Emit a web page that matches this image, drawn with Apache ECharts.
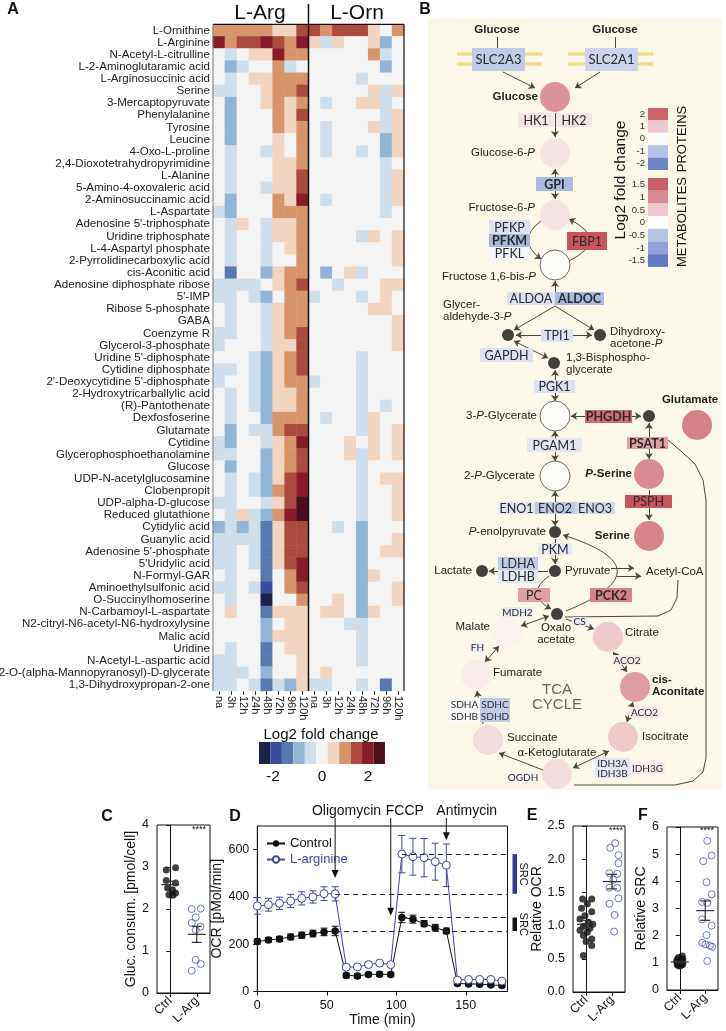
<!DOCTYPE html>
<html>
<head>
<meta charset="utf-8">
<script src="https://cdn.jsdelivr.net/npm/echarts@6/dist/echarts.min.js"></script>
<style>
html,body{margin:0;padding:0;background:#fff;}
#main{width:726px;height:1031px;}
</style>
</head>
<body>
<div id="main"></div>
<script>
const FONT = 'Liberation Sans, Arial, Helvetica, sans-serif';
const ENZ_FONT = 'Lato, Open Sans, sans-serif';

// ---------------- A : heatmap data ----------------
const timeLabels = ['na', '3h', '12h', '24h', '48h', '72h', '96h', '120h'];
const metaboliteLabels = [
  'L-Ornithine', 'L-Arginine', 'N-Acetyl-L-citrulline', 'L-2-Aminoglutaramic acid', 'L-Arginosuccinic acid',
  'Serine', '3-Mercaptopyruvate', 'Phenylalanine', 'Tyrosine', 'Leucine', '4-Oxo-L-proline',
  '2,4-Dioxotetrahydropyrimidine', 'L-Alanine', '5-Amino-4-oxovaleric acid', '2-Aminosuccinamic acid',
  'L-Aspartate', "Adenosine 5'-triphosphate", 'Uridine triphosphate', 'L-4-Aspartyl phosphate',
  '2-Pyrrolidinecarboxylic acid', 'cis-Aconitic acid', 'Adenosine diphosphate ribose', "5'-IMP",
  'Ribose 5-phosphate', 'GABA', 'Coenzyme R', 'Glycerol-3-phosphate', "Uridine 5'-diphosphate",
  'Cytidine diphosphate', "2'-Deoxycytidine 5'-diphosphate", '2-Hydroxytricarballylic acid',
  '(R)-Pantothenate', 'Dexfosfoserine', 'Glutamate', 'Cytidine', 'Glycerophosphoethanolamine', 'Glucose',
  'UDP-N-acetylglucosamine', 'Clobenpropit', 'UDP-alpha-D-glucose', 'Reduced glutathione', 'Cytidylic acid',
  'Guanylic acid', "Adenosine 5'-phosphate", "5'Uridylic acid", 'N-Formyl-GAR', 'Aminoethylsulfonic acid',
  'O-Succinylhomoserine', 'N-Carbamoyl-L-aspartate', 'N2-citryl-N6-acetyl-N6-hydroxylysine', 'Malic acid',
  'Uridine', 'N-Acetyl-L-aspartic acid', '2-O-(alpha-Mannopyranosyl)-D-glycerate', '1,3-Dihydroxypropan-2-one'
];
// log2 fold change, L-Arg treatment (columns = timeLabels)
const argFC = [
  [1,1,1,1,1,.5,.5,1.5],[2,1,1.5,1.5,2,1.5,1,2],[0,-.5,0,.5,.5,2,1,1],[0,-1,-.5,0,0,1,-.5,0],
  [0,-.5,0,.5,.5,1,1,1],[-.5,-.5,0,0,.5,1,1,1.5],[0,-1,0,0,.5,1,.5,1],[0,-1,0,0,0,1,.5,1.5],
  [0,-1,0,0,0,1,.5,1],[0,-1,0,0,0,.5,0,1],[0,-.5,0,0,-.5,.5,0,1],[0,-.5,0,0,0,.5,.5,1],
  [0,-.5,0,0,0,.5,.5,1.5],[0,-.5,0,0,-.5,.5,.5,1.5],[0,-1,0,0,0,1,.5,2],[-.5,-1,0,0,0,1,1,1],
  [0,-.5,.5,0,-.5,.5,.5,1],[0,-.5,0,0,-.5,.5,.5,1],[0,-.5,0,0,-.5,0,.5,1],[0,-.5,0,0,-.5,0,0,1],
  [0,-1.5,0,0,-1,.5,1,1],[-.5,-.5,-.5,-.5,0,.5,1,1.5],[-.5,-.5,0,-.5,-1,0,1,1],[0,-.5,0,0,-.5,.5,1,1],
  [0,-.5,0,0,-.5,.5,1,1],[-.5,-.5,0,0,-.5,.5,1,1.5],[-.5,0,0,0,-.5,.5,.5,1.5],[0,0,0,-.5,-1,.5,1,1.5],
  [-.5,-.5,0,-.5,-1,.5,1,1.5],[-.5,0,0,-.5,-1,.5,1,1],[0,-.5,0,-.5,-1,.5,.5,1],[0,-.5,0,-.5,-1,.5,.5,1],
  [0,-.5,0,0,-1,1,1,1],[0,-1,0,-.5,-.5,1,1.5,1.5],[-.5,-1,0,0,-.5,.5,1,2],[-.5,-.5,0,0,-1,.5,1,1.5],
  [0,-1,0,0,-1,.5,1,1.5],[0,-.5,0,-.5,-1,.5,1.5,2],[0,-.5,0,-.5,-1,1,1.5,2],[-.5,-.5,0,0,-.5,.5,1.5,2.5],
  [0,-.5,.5,-.5,-1,1,2,2.5],[-1,-.5,-1,-.5,-1.5,.5,1.5,1.5],[-.5,-.5,-.5,-.5,-1.5,.5,1.5,1.5],
  [-.5,-.5,0,-.5,-1.5,.5,1.5,1.5],[-.5,-.5,0,-.5,-1.5,.5,1.5,2],[0,-.5,0,0,-1.5,0,1,2],
  [-.5,-.5,0,-.5,-2,0,1,1.5],[0,-.5,0,0,-2.5,0,0,1],[0,.5,0,0,-1.5,.5,.5,.5],[0,0,0,0,-1,0,.5,.5],
  [0,0,0,0,-1,.5,.5,.5],[0,-.5,0,0,-1.5,0,.5,.5],[-.5,-.5,0,0,-1.5,0,0,.5],[-.5,-.5,-.5,0,-1,0,0,.5],
  [-.5,-.5,0,-.5,-1.5,-.5,-1,.5]
];
// log2 fold change, L-Orn treatment
const ornFC = [
  [1.5,1,1.5,1.5,1.5,.5,0,1],[.5,-.5,.5,0,0,.5,-1,0],[0,0,0,0,0,1,-.5,0],[0,0,0,0,0,0,-1,0],
  [0,0,0,0,-.5,0,0,0],[0,0,0,0,0,.5,-.5,.5],[0,-.5,0,0,.5,.5,-.5,0],[0,0,0,0,0,0,-.5,.5],
  [0,-.5,0,0,0,.5,-.5,.5],[0,-.5,0,0,0,0,-1,.5],[0,-.5,0,0,-.5,0,-1,.5],[0,0,0,0,0,0,-.5,0],
  [0,0,0,0,0,0,-.5,.5],[0,0,0,0,0,0,-.5,.5],[0,-.5,0,0,0,0,-.5,.5],[0,0,0,0,0,0,-.5,0],
  [0,0,0,0,0,0,0,0],[0,0,0,0,-.5,.5,0,.5],[0,0,0,0,0,0,0,.5],[0,0,0,0,0,0,0,.5],
  [0,-1,0,.5,-.5,0,0,0],[0,0,-.5,0,0,0,.5,.5],[-.5,0,0,0,-.5,0,.5,0],[0,0,0,0,0,.5,.5,0],
  [0,0,0,0,0,0,0,.5],[0,0,0,0,0,0,0,.5],[0,0,0,0,0,0,0,.5],[0,0,0,0,-.5,0,0,0],
  [0,0,0,0,-.5,0,0,0],[-.5,0,0,0,-.5,0,0,0],[0,0,0,0,-.5,0,0,0],[0,0,0,0,-.5,0,-.5,0],
  [0,-.5,0,0,-.5,.5,0,0],[0,0,0,0,-.5,.5,0,.5],[0,0,0,.5,0,.5,0,.5],[0,0,0,.5,-.5,.5,0,.5],
  [0,0,0,0,-.5,0,0,0],[0,0,0,0,-.5,0,.5,.5],[0,0,0,0,-.5,0,0,.5],[0,0,0,0,-.5,0,0,.5],
  [0,0,0,0,-.5,0,0,.5],[0,0,-.5,0,-1,0,0,0],[0,0,0,0,-1,0,0,.5],[0,0,0,0,-1,0,.5,.5],
  [0,0,0,0,-1,0,0,0],[0,0,0,0,-1,.5,0,0],[0,0,0,0,-1,0,0,.5],[0,0,.5,0,-1,0,0,.5],
  [0,.5,.5,0,-1,.5,0,0],[0,0,0,-.5,-.5,0,0,0],[0,0,0,0,-.5,0,0,0],[0,0,0,0,-.5,0,0,0],
  [0,0,0,0,-.5,0,0,0],[0,.5,0,0,0,0,0,0],[-.5,-.5,0,0,-.5,0,-1.5,0]
];
const fcLevels = [-2.5, -2, -1.5, -1, -0.5, 0, 0.5, 1, 1.5, 2, 2.5];
const fcColors = ['#1c2346', '#3a4d9c', '#5878b0', '#93b5d5', '#cfdeeb', '#f4f4f4',
  '#f2d5c0', '#d6956b', '#ab4a3e', '#881b2a', '#4a0f1c'];

// ---------------- B : pathway fold changes ----------------
const pathMetabolites = ['Glucose', 'G6P', 'F6P', 'F16BP', '3PG', '2PG', 'Glutamate', 'PSer', 'Serine',
  'Malate', 'Fumarate', 'Succinate', 'aKG', 'Isocitrate', 'cisAco', 'Citrate'];
const pathMetaboliteFC = [1.2, 0.3, 0.3, 0, 0, 0, 1.45, 1.3, 1.4, 0.15, 0.2, 0.4, 0.4, 0.6, 1.05, 0.6];
const unmeasuredMetabolites = ['G3P', 'DHAP', 'BPG', 'PHP', 'PEP', 'Pyruvate', 'Lactate', 'OAA'];
const pathEnzymes = ['SLC2A3', 'SLC2A1', 'HK1', 'HK2', 'GPI', 'PFKP', 'PFKM', 'PFKL', 'FBP1', 'ALDOA', 'ALDOC',
  'TPI1', 'GAPDH', 'PGK1', 'PHGDH', 'PSAT1', 'PGAM1', 'PSPH', 'ENO1', 'ENO2', 'ENO3', 'PKM', 'LDHA', 'LDHB',
  'PC', 'PCK2', 'MDH2', 'CS', 'FH', 'ACO2', 'SDHA', 'SDHB', 'SDHC', 'SDHD', 'OGDH', 'IDH3A', 'IDH3B', 'IDH3G'];
const pathEnzymeFC = [-0.85, -0.7, 0.45, 0.45, -1.15, -0.45, -1.2, -0.1, 2.3, -0.45, -1.15,
  -0.45, -0.45, -0.45, 1.9, 1.4, -0.35, 2.3, -0.35, -0.9, -0.6, -0.3, -0.85, -0.35,
  1.4, 1.7, -0.25, -0.3, -0.2, 0.35, 0, 0, -0.85, -0.85, 0, -0.35, -0.35, 0.35];
const proteinLegendLevels = [2, 1, 0, -1, -2];
const metaboliteLegendLevels = [1.5, 1, 0.5, 0, -0.5, -1, -1.5];

// ---------------- C : glucose consumption ----------------
const groups = ['Ctrl', 'L-Arg'];
const glucCtrl = [2.93, 2.98, 2.68, 2.62, 2.5, 2.46, 2.38, 2.34, 2.33];
const glucCtrlJit = [-0.15, 0.2, -0.15, 0.2, -0.1, 0.08, 0.2, -0.05, 0.1];
const glucArg = [2.0, 2.01, 1.8, 1.67, 1.58, 1.5, 0.79, 0.69, 0.53];
const glucArgJit = [-0.19, 0.15, -0.04, -0.19, 0.14, -0.04, -0.04, 0.15, -0.19];

// ---------------- D : OCR trace ----------------
const ocrTime = [0, 8, 16, 24, 32, 40, 48, 56, 64, 72, 80, 88, 96, 104, 112, 120, 128, 136, 144, 152, 160, 168, 176];
const ocrControl = [211, 218, 222, 231, 238, 245, 252, 256, 68, 66, 72, 73, 72, 313, 306, 287, 270, 256, 34, 32, 31, 28, 25];
const ocrControlErr = [11, 10, 11, 12, 13, 14, 16, 20, 10, 9, 9, 9, 9, 22, 17, 13, 14, 12, 8, 7, 7, 7, 7];
const ocrArg = [362, 367, 373, 383, 394, 400, 414, 413, 103, 104, 114, 120, 114, 581, 570, 566, 549, 534, 48, 51, 51, 51, 44];
const ocrArgErr = [35, 27, 26, 28, 28, 26, 29, 30, 10, 9, 9, 9, 9, 79, 78, 81, 78, 90, 8, 8, 8, 8, 8];
const drugNames = ['Oligomycin', 'FCCP', 'Antimycin'];
const drugTimes = [56, 96, 136];
const drugArrowTip = [480, 320, 640];

// ---------------- E / F ----------------
const relOcrCtrl = [1.40, 1.40, 1.33, 1.26, 1.21, 1.15, 1.10, 1.05, 1.02, 0.99, 0.96, 0.93, 0.90, 0.85, 0.80, 0.76, 0.70, 0.55];
const relOcrCtrlJit = [-0.13, 0.22, 0.05, -0.17, 0.22, -0.04, -0.23, 0.09, 0.26, -0.1, 0.15, -0.23, 0.05, -0.1, 0.22, 0, 0.22, -0.1];
const relOcrArg = [2.24, 2.17, 2.06, 1.94, 1.79, 1.78, 1.69, 1.57, 1.57, 1.41, 1.33, 1.16, 0.91];
const relOcrArgJit = [0.12, -0.07, 0.25, 0.25, -0.1, 0.2, 0.05, -0.1, 0.2, 0.25, -0.1, 0.1, 0.08];
const relSrcCtrl = [1.25, 1.2, 1.15, 1.12, 1.1, 1.05, 1.02, 1.0, 0.98, 0.95, 0.93, 0.9, 0.88, 1.08, 0.96, 0.92];
const relSrcCtrlJit = [0.1, -0.05, 0.12, -0.1, 0.05, -0.12, 0, 0.08, -0.06, 0.12, -0.1, 0.03, -0.03, 0.1, -0.08, 0.06];
const relSrcArg = [5.49, 4.95, 4.74, 3.97, 3.52, 3.24, 3.21, 2.6, 2.37, 2.02, 1.74, 1.68, 1.63, 1.59, 1.07];
const relSrcArgJit = [0.08, 0.25, -0.08, 0.05, 0.25, -0.12, 0.08, -0.12, 0.25, 0.05, -0.12, 0.01, 0.18, 0.27, 0.08];

// ---------------- B : diagram geometry (pixel-like diagram units) ----------------
const nodePos = {
  Glucose: [555, 97], G6P: [555, 153], F6P: [555, 215], F16BP: [555, 265], '3PG': [555, 416], '2PG': [555, 476],
  Glutamate: [697, 425], PSer: [649, 474], Serine: [649, 536], Malate: [507, 632], Fumarate: [476, 675],
  Succinate: [488, 740], aKG: [557, 774], Isocitrate: [623, 737], cisAco: [635, 687], Citrate: [608, 637],
  G3P: [508, 335], DHAP: [600, 335], BPG: [554, 363], PHP: [649, 416], PEP: [555, 532], Pyruvate: [555, 571],
  Lactate: [482, 571], OAA: [557, 614]
};
// enzyme boxes: name, x1, y1, x2, y2, font size, bold
const enzymeBoxes = [
  ['SLC2A3', 472, 48, 525, 71, 13, 0], ['SLC2A1', 585, 48, 638, 71, 13, 0],
  ['HK1', 518, 113, 554, 127, 12.5, 0], ['HK2', 556, 113, 592, 127, 12.5, 0],
  ['GPI', 536, 177, 573, 191, 12.5, 1],
  ['PFKP', 489, 220, 530, 234, 12.5, 0], ['PFKM', 489, 234, 530, 247, 12.5, 1], ['PFKL', 489, 247, 530, 260, 12.5, 0],
  ['FBP1', 567, 232, 607, 250, 12.5, 0],
  ['ALDOA', 507, 292, 555, 305, 12.5, 0], ['ALDOC', 555, 292, 604, 305, 12.5, 1],
  ['TPI1', 541, 329, 573, 342, 12.5, 0], ['GAPDH', 480, 348, 533, 362, 12.5, 0], ['PGK1', 534, 380, 575, 393, 12.5, 0],
  ['PHGDH', 585, 410, 632, 423, 12.5, 1], ['PSAT1', 627, 437, 668, 449, 12.5, 1], ['PGAM1', 527, 438, 582, 452, 12.5, 0],
  ['PSPH', 625, 495, 672, 508, 12.5, 0],
  ['ENO1', 498, 502, 535, 514, 12.5, 0], ['ENO2', 535, 502, 575, 514, 12.5, 0], ['ENO3', 575, 502, 615, 514, 12.5, 0],
  ['PKM', 538, 543, 572, 555, 12.5, 0], ['LDHA', 498, 557, 538, 570, 12.5, 0], ['LDHB', 498, 570, 538, 583, 12.5, 0],
  ['PC', 518, 588, 550, 602, 12.5, 0], ['PCK2', 590, 588, 632, 602, 12.5, 1],
  ['MDH2', 502, 607, 533, 617, 10, 0], ['CS', 572, 617, 587, 626, 10, 0], ['FH', 470, 642, 485, 652, 10, 0],
  ['ACO2', 612, 655, 642, 665, 10, 0], ['ACO2', 629, 707, 660, 718, 10, 0],
  ['SDHA', 449, 698, 480, 710, 10, 0], ['SDHC', 480, 698, 510, 710, 10, 0],
  ['SDHB', 449, 710, 480, 722, 10, 0], ['SDHD', 480, 710, 510, 722, 10, 0],
  ['OGDH', 508, 772, 538, 782, 10, 0],
  ['IDH3A', 595, 758, 630, 768, 10, 0], ['IDH3B', 595, 768, 630, 778, 10, 0], ['IDH3G', 630, 762, 665, 774, 10, 0]
];
const singleArrows = [
  [[503, 72], [535, 88]], [[600, 72], [575, 88]], [[555, 113], [555, 137]], [[555, 292], [555, 281]],
  [[555, 306], [514, 330]], [[555, 306], [594, 330]], [[649, 490], [649, 520]], [[555, 539], [555, 564]],
  [[548, 571], [489, 571]], [[611, 568], [634, 568]], [[617, 576], [641, 576]], [[566, 619], [594, 629]],
  [[483, 724], [477, 691]], [[543, 770], [499, 753]]
];
const curvedArrows = [
  [[541, 221], [541, 259], -0.68], [[569, 261], [569, 219], -1.0],
  [[549, 576], [551, 609], -0.79], [[566, 611], [563, 535], -1.39]
];
const doubleArrows = [
  [[555, 169], [555, 199]], [[516, 335], [592, 335]], [[514, 341], [548, 358]], [[555, 370], [555, 401]],
  [[571, 416], [641, 416]], [[649, 423], [649, 459]], [[555, 431], [555, 461]], [[555, 491], [555, 526]],
  [[549, 616], [521, 626]], [[499, 646], [485, 662]], [[613, 652], [627, 672]], [[633, 702], [627, 722]],
  [[609, 751], [573, 768]]
];
const polyArrows = [
  [[668, 440], [682, 452], [695, 464], [703, 480], [706, 500], [706, 758], [703, 772], [693, 781], [675, 785], [574, 785]],
  [[678, 580], [677, 598], [671, 610], [658, 616], [565, 617]]
];
const plainLines = [[[497, 37], [497, 48]], [[615, 37], [615, 48]]];
const membranes = [[[457, 54], [542, 54]], [[457, 64], [542, 64]], [[568, 54], [653, 54]], [[568, 64], [653, 64]]];
// text, x, y, align, bold
const bLabels = [
  ['Glucose', 497, 30, 'center', 1], ['Glucose', 615, 30, 'center', 1], ['Glucose', 538, 97, 'right', 1],
  ['Glucose-6-{i|P}', 535, 153, 'right', 0], ['Fructose-6-{i|P}', 535, 208, 'right', 0],
  ['Fructose 1,6-bis-{i|P}', 536, 277, 'right', 0], ['Glycer-\naldehyde-3-{i|P}', 443, 311, 'left', 0],
  ['Dihydroxy-\nacetone-{i|P}', 610, 338, 'left', 0], ['1,3-Bisphospho-\nglycerate', 566, 364, 'left', 0],
  ['3-{i|P}-Glycerate', 537, 416, 'right', 0], ['Glutamate', 690, 400, 'center', 1],
  ['{bi|P}-Serine', 632, 474, 'right', 1], ['2-{i|P}-Glycerate', 535, 476, 'right', 0],
  ['{i|P}-enolpyruvate', 546, 532, 'right', 0], ['Serine', 630, 536, 'right', 1], ['Pyruvate', 565, 571, 'left', 0],
  ['Lactate', 472, 571, 'right', 0], ['Acetyl-CoA', 646, 572, 'left', 0], ['Oxalo\nacetate', 556, 634, 'center', 0],
  ['Malate', 490, 627, 'right', 0], ['Citrate', 625, 633, 'left', 0], ['Fumarate', 493, 673, 'left', 0],
  ['cis-\nAconitate', 652, 686, 'left', 1], ['Succinate', 507, 738, 'left', 0], ['Isocitrate', 642, 737, 'left', 0],
  ['α-Ketoglutarate', 557, 753, 'center', 0]
];

// ---------------- helpers ----------------
function hex(c) { return [parseInt(c.slice(1, 3), 16), parseInt(c.slice(3, 5), 16), parseInt(c.slice(5, 7), 16)]; }
function scaleColor(stops, v) {
  if (v <= stops[0][0]) return stops[0][1];
  if (v >= stops[stops.length - 1][0]) return stops[stops.length - 1][1];
  for (let i = 0; i < stops.length - 1; i++) {
    const a = stops[i], b = stops[i + 1];
    if (v >= a[0] && v <= b[0]) {
      const t = (v - a[0]) / (b[0] - a[0]);
      const ca = hex(a[1]), cb = hex(b[1]);
      return 'rgb(' + ca.map((x, k) => Math.round(x + (cb[k] - x) * t)).join(',') + ')';
    }
  }
}
const proteinStops = [[-2, '#6f86c5'], [-1, '#b7c3e4'], [0, '#fbfbfd'], [1, '#efc8cf'], [2, '#cd636b'], [2.5, '#c44a54']];
const metaboliteStops = [[-1.5, '#6179c2'], [-1, '#8ea3d6'], [-0.5, '#b8c4e4'], [0, '#ffffff'], [0.5, '#efc8cf'], [1, '#d98a92'], [1.5, '#c9606a']];
const protColor = v => scaleColor(proteinStops, v);
const metColor = v => scaleColor(metaboliteStops, v);

function heatData(rows) {
  const d = [];
  rows.forEach((r, i) => r.forEach((v, j) => d.push([j, i, v])));
  return d;
}
function meanSem(a) {
  const m = a.reduce((s, v) => s + v, 0) / a.length;
  const sd = Math.sqrt(a.reduce((s, v) => s + (v - m) * (v - m), 0) / (a.length - 1));
  return [m, sd / Math.sqrt(a.length)];
}

const axisBase = {
  axisLine: { show: true, lineStyle: { color: '#111', width: 1 } },
  axisTick: { show: true, length: 4, lineStyle: { color: '#111' } },
  axisLabel: { color: '#111', fontSize: 12.5, fontFamily: FONT },
  splitLine: { show: false },
  nameTextStyle: { color: '#111', fontSize: 14, fontFamily: FONT }
};
function ax(o) {
  return Object.assign({}, axisBase, o, {
    axisLabel: Object.assign({}, axisBase.axisLabel, o.axisLabel || {}),
    axisTick: Object.assign({}, axisBase.axisTick, o.axisTick || {}),
    nameTextStyle: Object.assign({}, axisBase.nameTextStyle, o.nameTextStyle || {})
  });
}
const plotGrid = (l, t, w, h) => ({ left: l, top: t, width: w, height: h, show: true, borderColor: '#111', borderWidth: 1, backgroundColor: 'transparent', outerBoundsMode: 'none' });

// dot plot (C, E, F)
function dotSeries(xi, yi, vals, jit, k, filled) {
  return {
    type: 'scatter', xAxisIndex: xi, yAxisIndex: yi, symbolSize: 7, silent: true,
    data: vals.map((v, i) => [k + jit[i], v]),
    itemStyle: filled ? { color: '#111' } : { color: 'rgba(255,255,255,0)', borderColor: '#4a55b3', borderWidth: 1 }
  };
}
function semSeries(xi, yi, sets) {
  return {
    type: 'custom', xAxisIndex: xi, yAxisIndex: yi, z: 5, silent: true,
    data: sets.map((vals, k) => { const s = meanSem(vals); return [k, s[0], s[1]]; }),
    renderItem(params, api) {
      const x = api.value(0), m = api.value(1), s = api.value(2);
      const c = api.coord([x, m]), t = api.coord([x, m + s]), b = api.coord([x, m - s]);
      const st = { stroke: '#333', lineWidth: 1.2 };
      return { type: 'group', children: [
        { type: 'line', shape: { x1: c[0] - 9, y1: c[1], x2: c[0] + 9, y2: c[1] }, style: st },
        { type: 'line', shape: { x1: c[0], y1: t[1], x2: c[0], y2: b[1] }, style: st },
        { type: 'line', shape: { x1: c[0] - 5, y1: t[1], x2: c[0] + 5, y2: t[1] }, style: st },
        { type: 'line', shape: { x1: c[0] - 5, y1: b[1], x2: c[0] + 5, y2: b[1] }, style: st }
      ] };
    }
  };
}
function ocrErr(vals, errs, color) {
  return {
    type: 'custom', xAxisIndex: 5, yAxisIndex: 4, silent: true, z: 1,
    data: ocrTime.map((t, i) => [t, vals[i], errs[i]]),
    renderItem(params, api) {
      const t = api.value(0), v = api.value(1), e = api.value(2);
      const a = api.coord([t, v + e]), b = api.coord([t, v - e]);
      const st = { stroke: color, lineWidth: 1 };
      return { type: 'group', children: [
        { type: 'line', shape: { x1: a[0], y1: a[1], x2: b[0], y2: b[1] }, style: st },
        { type: 'line', shape: { x1: a[0] - 3.5, y1: a[1], x2: a[0] + 3.5, y2: a[1] }, style: st },
        { type: 'line', shape: { x1: b[0] - 3.5, y1: b[1], x2: b[0] + 3.5, y2: b[1] }, style: st }
      ] };
    }
  };
}

const chart = echarts.init(document.getElementById('main'));

const arrowStyle = { color: '#4a483c', width: 1 };
const bRich = {
  i: { fontStyle: 'italic', fontSize: 11.5, fontFamily: FONT, fill: '#222' },
  bi: { fontStyle: 'italic', fontWeight: 'bold', fontSize: 11.5, fontFamily: FONT, fill: '#222' }
};

const series = [
  // A heatmaps
  { type: 'heatmap', xAxisIndex: 0, yAxisIndex: 0, data: heatData(argFC), itemStyle: { borderWidth: 0 }, silent: true },
  { type: 'heatmap', xAxisIndex: 1, yAxisIndex: 1, data: heatData(ornFC), itemStyle: { borderWidth: 0 }, silent: true },
  // B membranes and stems
  { type: 'lines', coordinateSystem: 'cartesian2d', xAxisIndex: 2, yAxisIndex: 2, silent: true, z: 2,
    data: membranes.map(c => ({ coords: c })), lineStyle: { color: '#f0dc8e', width: 3.5, opacity: 1 } },
  { type: 'lines', coordinateSystem: 'cartesian2d', xAxisIndex: 2, yAxisIndex: 2, silent: true, z: 2,
    data: plainLines.map(c => ({ coords: c })), lineStyle: Object.assign({ opacity: 1 }, arrowStyle) },
  // B arrows
  { type: 'lines', coordinateSystem: 'cartesian2d', xAxisIndex: 2, yAxisIndex: 2, silent: true, z: 2,
    symbol: ['none', 'arrow'], symbolSize: 6,
    data: singleArrows.map(c => ({ coords: c })).concat(curvedArrows.map(c => ({ coords: [c[0], c[1]], lineStyle: { curveness: c[2] } }))),
    lineStyle: Object.assign({ opacity: 1 }, arrowStyle) },
  { type: 'lines', coordinateSystem: 'cartesian2d', xAxisIndex: 2, yAxisIndex: 2, silent: true, z: 2,
    symbol: ['arrow', 'arrow'], symbolSize: 6,
    data: doubleArrows.map(c => ({ coords: c })), lineStyle: Object.assign({ opacity: 1 }, arrowStyle) },
  { type: 'lines', coordinateSystem: 'cartesian2d', xAxisIndex: 2, yAxisIndex: 2, silent: true, z: 2, polyline: true,
    symbol: ['none', 'arrow'], symbolSize: 6,
    data: polyArrows.map(c => ({ coords: c })), lineStyle: Object.assign({ opacity: 1 }, arrowStyle) },
  // B enzymes
  { type: 'custom', xAxisIndex: 2, yAxisIndex: 2, silent: true, z: 4,
    data: enzymeBoxes.map(b => [b[1], b[2], b[3], b[4]]),
    renderItem(params, api) {
      const b = enzymeBoxes[params.dataIndex];
      const fc = pathEnzymeFC[pathEnzymes.indexOf(b[0])];
      const p1 = api.coord([b[1], b[2]]), p2 = api.coord([b[3], b[4]]);
      return { type: 'group', children: [
        { type: 'rect', shape: { x: p1[0], y: p1[1], width: p2[0] - p1[0], height: p2[1] - p1[1] }, style: { fill: protColor(fc) } },
        { type: 'text', x: (p1[0] + p2[0]) / 2, y: (p1[1] + p2[1]) / 2 + 0.5,
          style: { text: b[0], fill: '#2a2a2a', fontSize: b[5], fontWeight: b[6] ? 'bold' : 'normal', fontFamily: ENZ_FONT, align: 'center', verticalAlign: 'middle' } }
      ] };
    } },
  // B measured metabolites
  { type: 'scatter', xAxisIndex: 2, yAxisIndex: 2, silent: true, z: 5, symbolSize: 30,
    data: pathMetabolites.map((n, i) => ({
      value: nodePos[n],
      itemStyle: { color: metColor(pathMetaboliteFC[i]), borderColor: pathMetaboliteFC[i] === 0 ? '#444' : 'rgba(0,0,0,0)', borderWidth: pathMetaboliteFC[i] === 0 ? 1 : 0 }
    })) },
  { type: 'scatter', xAxisIndex: 2, yAxisIndex: 2, silent: true, z: 5, symbolSize: 12,
    data: unmeasuredMetabolites.map(n => nodePos[n]), itemStyle: { color: '#111' } },
  // B labels
  { type: 'custom', xAxisIndex: 2, yAxisIndex: 2, silent: true, z: 6,
    data: bLabels.map(l => [l[1], l[2]]),
    renderItem(params, api) {
      const l = bLabels[params.dataIndex];
      const p = api.coord([l[1], l[2]]);
      return { type: 'text', x: p[0], y: p[1],
        style: { text: l[0], fill: '#222', fontSize: 11.5, fontFamily: FONT, fontWeight: l[4] ? 'bold' : 'normal',
          align: l[3], verticalAlign: 'middle', lineHeight: 12.5, rich: bRich } };
    } },
  // C
  dotSeries(4, 3, glucCtrl, glucCtrlJit, 0, true),
  dotSeries(4, 3, glucArg, glucArgJit, 1, false),
  semSeries(4, 3, [glucCtrl, glucArg]),
  // D
  ocrErr(ocrControl, ocrControlErr, '#111'),
  ocrErr(ocrArg, ocrArgErr, '#3f46a0'),
  { type: 'line', name: 'Control', xAxisIndex: 5, yAxisIndex: 4, silent: true, z: 3,
    data: ocrTime.map((t, i) => [t, ocrControl[i]]), symbol: 'circle', symbolSize: 7.5,
    itemStyle: { color: '#111' }, lineStyle: { color: '#111', width: 1 },
    markLine: { silent: true, symbol: 'none', label: { show: false }, lineStyle: { color: '#222', width: 1, type: [5, 4] },
      data: [7, 13].map(i => [{ coord: [ocrTime[i], ocrControl[i]] }, { coord: [180, ocrControl[i]] }]) } },
  { type: 'line', name: 'L-arginine', xAxisIndex: 5, yAxisIndex: 4, silent: true, z: 3,
    data: ocrTime.map((t, i) => [t, ocrArg[i]]), symbol: 'circle', symbolSize: 8,
    itemStyle: { color: '#fff', borderColor: '#3f46a0', borderWidth: 1 }, lineStyle: { color: '#3f46a0', width: 1 },
    markLine: { silent: true, symbol: 'none', label: { show: false }, lineStyle: { color: '#222', width: 1, type: [5, 4] },
      data: [7, 13].map(i => [{ coord: [ocrTime[i], ocrArg[i]] }, { coord: [180, ocrArg[i]] }]) } },
  // D drug injections
  { type: 'custom', xAxisIndex: 5, yAxisIndex: 4, silent: true, clip: false, z: 6,
    data: drugTimes.map((t, i) => [t, drugArrowTip[i]]),
    renderItem(params, api) {
      const i = params.dataIndex;
      const tip = api.coord([api.value(0), api.value(1)]);
      const top = api.coord([api.value(0), 700])[1] - 8;
      const align = ['right', 'left', 'left'][i], dx = [46, -5, -10][i];
      return { type: 'group', children: [
        { type: 'line', shape: { x1: tip[0], y1: top, x2: tip[0], y2: tip[1] - 5 }, style: { stroke: '#111', lineWidth: 1 } },
        { type: 'polygon', shape: { points: [[tip[0] - 3.5, tip[1] - 8], [tip[0] + 3.5, tip[1] - 8], [tip[0], tip[1]]] }, style: { fill: '#111' } },
        { type: 'text', x: tip[0] + dx, y: top - 7, style: { text: drugNames[i], fill: '#111', fontSize: 14, fontFamily: FONT, align: align, verticalAlign: 'middle' } }
      ] };
    } },
  // D spare respiratory capacity bars
  { type: 'custom', xAxisIndex: 5, yAxisIndex: 4, silent: true, clip: false, z: 6,
    data: [[ocrArg[13], ocrArg[7]], [ocrControl[13], ocrControl[7]]],
    renderItem(params, api) {
      const a = api.coord([180, api.value(0)]), b = api.coord([180, api.value(1)]);
      const x = a[0] + 5;
      return { type: 'group', children: [
        { type: 'rect', shape: { x: x, y: a[1], width: 4.5, height: b[1] - a[1] }, style: { fill: params.dataIndex === 0 ? '#343a99' : '#111' } },
        { type: 'text', x: x + 11, y: (a[1] + b[1]) / 2, rotation: -Math.PI / 2,
          style: { text: 'SRC', fill: '#111', fontSize: 11, fontFamily: FONT, align: 'center', verticalAlign: 'middle' } }
      ] };
    } },
  // E
  dotSeries(7, 5, relOcrCtrl, relOcrCtrlJit, 0, true),
  dotSeries(7, 5, relOcrArg, relOcrArgJit, 1, false),
  semSeries(7, 5, [relOcrCtrl, relOcrArg]),
  // F
  dotSeries(9, 6, relSrcCtrl, relSrcCtrlJit, 0, true),
  dotSeries(9, 6, relSrcArg, relSrcArgJit, 1, false),
  semSeries(9, 6, [relSrcCtrl, relSrcArg])
];

const catAxis = grid => ax({ gridIndex: grid, type: 'category', data: groups,
  axisTick: { alignWithLabel: true }, axisLabel: { rotate: 45, margin: 6, interval: 0 } });
const hiddenX = grid => ({ gridIndex: grid, type: 'value', min: -0.5, max: 1.5, show: false });

const graphics = [];
function gText(text, x, y, size, opts) {
  graphics.push(Object.assign({ type: 'text', x: x, y: y, z: 100, silent: true,
    style: { text: text, fill: '#111', fontSize: size, fontFamily: FONT, align: 'center', verticalAlign: 'middle' } }, opts || {}));
}
function gLine(x1, y1, x2, y2, color, w) {
  graphics.push({ type: 'line', z: 100, silent: true, shape: { x1: x1, y1: y1, x2: x2, y2: y2 }, style: { stroke: color, lineWidth: w } });
}
// panel letters
[['A', 13, 10], ['B', 425, 10], ['C', 107, 817], ['D', 235, 817], ['E', 532, 816], ['F', 643, 816]]
  .forEach(p => gText(p[0], p[1], p[2], 16, { style: { text: p[0], fill: '#111', fontSize: 16, fontWeight: 'bold', fontFamily: FONT, align: 'center', verticalAlign: 'middle' } }));
// heatmap header, frame and colour key text
gText('L-Arg', 260, 13, 21);
gText('L-Orn', 357, 13, 21);
gLine(213, 24.3, 404, 24.3, '#111', 1.2);
gLine(404, 24.3, 404, 690.9, '#111', 1.2);
gLine(213, 24.3, 213, 690.9, '#777', 1);
gLine(308.5, 4, 308.5, 690.9, '#111', 1.5);
gText('Log2 fold change', 321, 735, 15);
gText('-2', 273, 777, 15.5);
gText('0', 322, 777, 15.5);
gText('2', 368, 777, 15.5);
// panel B key
const keyStyle = t => ({ style: { text: t, fill: '#333', fontSize: 9.5, fontFamily: FONT, align: 'right', verticalAlign: 'middle' } });
proteinLegendLevels.forEach((v, i) => {
  graphics.push({ type: 'rect', z: 100, silent: true, shape: { x: 648, y: 108 + i * 12.4, width: 20, height: 12.4 }, style: { fill: protColor(v) } });
  gText(String(v), 645, 114 + i * 12.4, 9.5, keyStyle(String(v)));
});
metaboliteLegendLevels.forEach((v, i) => {
  graphics.push({ type: 'rect', z: 100, silent: true, shape: { x: 648, y: 178 + i * 12.7, width: 20, height: 12.7 }, style: { fill: metColor(v) } });
  gText(String(v), 645, 184.5 + i * 12.7, 9.5, keyStyle(String(v)));
});
gText('Log2 fold change', 621, 180, 15.5, { rotation: Math.PI / 2 });
gText('PROTEINS', 682, 139, 13, { rotation: Math.PI / 2 });
gText('METABOLITES', 682, 222, 13, { rotation: Math.PI / 2 });
gText('TCA\nCYCLE', 557, 697, 15, { style: { text: 'TCA\nCYCLE', fill: '#666', fontSize: 15, fontFamily: FONT, align: 'center', verticalAlign: 'middle', lineHeight: 15 } });
// significance marks
[[199, 830], [616, 831], [707, 831]].forEach(p => gText('****', p[0], p[1], 9));

chart.setOption({
  animation: false,
  backgroundColor: '#fff',
  textStyle: { fontFamily: FONT },
  grid: [
    { left: 213, top: 24.3, width: 95.5, height: 666.6, outerBoundsMode: 'none' },
    { left: 308.5, top: 24.3, width: 95.5, height: 666.6, outerBoundsMode: 'none' },
    { left: 428, top: 18, width: 294, height: 772, show: true, backgroundColor: '#fbf8ea', borderWidth: 0, outerBoundsMode: 'none' },
    plotGrid(157, 825, 53, 168),
    plotGrid(257.3, 826, 250.2, 165.5),
    plotGrid(573, 826, 52, 166),
    plotGrid(667, 827, 51, 163)
  ],
  xAxis: [
    { gridIndex: 0, type: 'category', data: timeLabels, axisLine: { show: false }, splitLine: { show: false },
      axisTick: { show: true, alignWithLabel: true, length: 4, lineStyle: { color: '#333' } },
      axisLabel: { rotate: -90, fontSize: 11, color: '#222', margin: 5, interval: 0, fontFamily: FONT } },
    { gridIndex: 1, type: 'category', data: timeLabels, axisLine: { show: false }, splitLine: { show: false },
      axisTick: { show: true, alignWithLabel: true, length: 4, lineStyle: { color: '#333' } },
      axisLabel: { rotate: -90, fontSize: 11, color: '#222', margin: 5, interval: 0, fontFamily: FONT } },
    { gridIndex: 2, type: 'value', min: 428, max: 722, show: false },
    catAxis(3), hiddenX(3),
    ax({ gridIndex: 4, type: 'value', min: 0, max: 180, interval: 50, name: 'Time (min)', nameLocation: 'middle', nameGap: 20,
      axisLabel: { showMaxLabel: false } }),
    catAxis(5), hiddenX(5),
    catAxis(6), hiddenX(6)
  ],
  yAxis: [
    { gridIndex: 0, type: 'category', data: metaboliteLabels, inverse: true, axisLine: { show: false }, axisTick: { show: false },
      splitLine: { show: false }, axisLabel: { fontSize: 11.6, color: '#222', margin: 3, interval: 0, fontFamily: FONT } },
    { gridIndex: 1, type: 'category', data: metaboliteLabels, inverse: true, axisLine: { show: false }, axisTick: { show: false },
      splitLine: { show: false }, axisLabel: { show: false } },
    { gridIndex: 2, type: 'value', min: 18, max: 790, inverse: true, show: false },
    ax({ gridIndex: 3, type: 'value', min: 0, max: 4, interval: 1, name: 'Gluc. consum. [pmol/cell]', nameLocation: 'middle', nameGap: 16 }),
    ax({ gridIndex: 4, type: 'value', min: 0, max: 700, interval: 200, name: 'OCR [pMol/min]', nameLocation: 'middle', nameGap: 27,
      axisLabel: { showMaxLabel: false } }),
    ax({ gridIndex: 5, type: 'value', min: 0, max: 2.5, interval: 0.5, name: 'Relative OCR', nameLocation: 'middle', nameGap: 26,
      axisLabel: { formatter: v => v.toFixed(1) } }),
    ax({ gridIndex: 6, type: 'value', min: 0, max: 6, interval: 1, name: 'Relative SRC', nameLocation: 'middle', nameGap: 14 })
  ],
  visualMap: {
    type: 'piecewise', seriesIndex: [0, 1], dimension: 2, orient: 'horizontal',
    left: 259, top: 742, padding: 0, itemWidth: 11.45, itemHeight: 22, itemGap: 0, itemSymbol: 'rect',
    showLabel: false, selectedMode: false, hoverLink: false,
    pieces: fcLevels.map((v, i) => ({ value: v, color: fcColors[i] }))
  },
  legend: {
    left: 261, top: 832, orient: 'vertical', itemGap: 3, itemWidth: 18, itemHeight: 8, selectedMode: false,
    textStyle: { fontSize: 13, fontFamily: FONT },
    data: [{ name: 'Control', textStyle: { color: '#111' } }, { name: 'L-arginine', textStyle: { color: '#3f46a0' } }]
  },
  graphic: graphics,
  series: series
});
</script>
</body>
</html>
